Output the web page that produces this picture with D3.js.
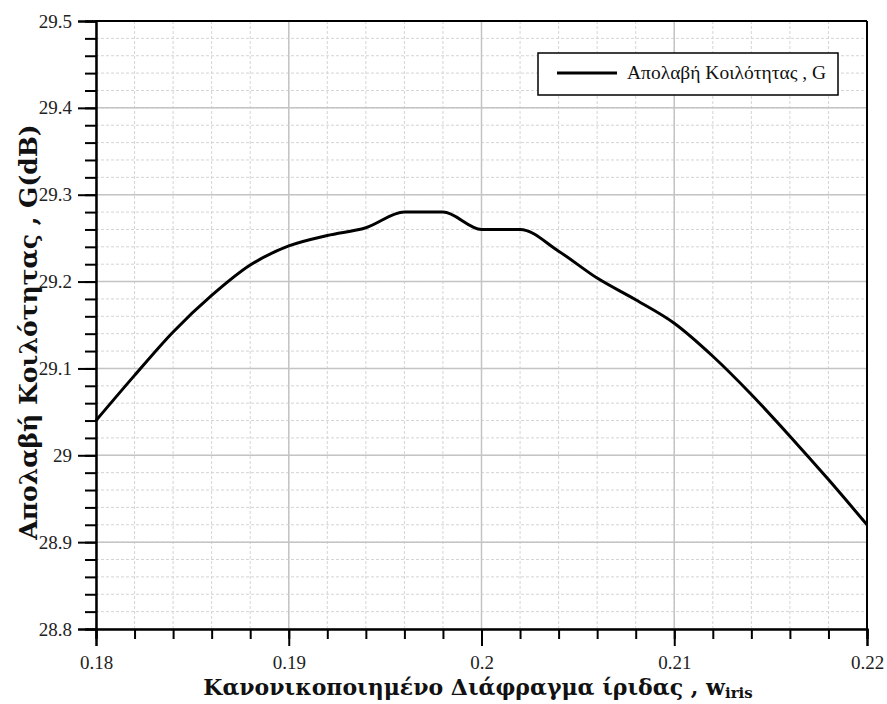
<!DOCTYPE html>
<html>
<head>
<meta charset="utf-8">
<script src="https://cdn.jsdelivr.net/npm/d3@7"></script>
<style>
  body { margin: 0; background: #fff; }
  text { font-family: "Liberation Serif", "DejaVu Serif", serif; }
  text.title { font-family: "DejaVu Serif", "Liberation Serif", serif; }
</style>
</head>
<body>
<script>
var w = 887;
var h = 704;
var margin = { top: 21, right: 20, bottom: 75, left: 96 };
var innerW = w - margin.left - margin.right;
var innerH = h - margin.top - margin.bottom;

// w_iris values and gain G (dB)
var wIris = [0.180, 0.182, 0.184, 0.186, 0.188, 0.190, 0.192, 0.194, 0.196, 0.198,
             0.200, 0.202, 0.204, 0.206, 0.208, 0.210, 0.212, 0.214, 0.216, 0.218, 0.220];
var gain = [29.04, 29.092, 29.142, 29.184, 29.219, 29.241, 29.253, 29.262, 29.28, 29.28,
            29.26, 29.26, 29.235, 29.204, 29.179, 29.152, 29.114, 29.07, 29.022, 28.972, 28.92];

var xTicks = [0.18, 0.19, 0.2, 0.21, 0.22];
var yTicks = [28.8, 28.9, 29, 29.1, 29.2, 29.3, 29.4, 29.5];
var xMinor = d3.range(0, 21).map(function(i){ return 0.18 + i * 0.002; });
var yMinor = d3.range(0, 36).map(function(i){ return 28.8 + i * 0.02; });

var legendLabel = "Απολαβή Κοιλότητας , G";

var svg = d3.select("body")
            .append("svg")
            .attr("width", w)
            .attr("height", h);

var g = svg.append("g")
           .attr("transform", "translate(" + margin.left + "," + margin.top + ")");

var x = d3.scaleLinear().domain([0.18, 0.22]).range([0, innerW]);
var y = d3.scaleLinear().domain([28.8, 29.5]).range([innerH, 0]);

// minor grid (dashed)
g.append("g")
 .selectAll("line")
 .data(xMinor)
 .enter()
 .append("line")
 .attr("x1", function(d){ return x(d); })
 .attr("x2", function(d){ return x(d); })
 .attr("y1", 0)
 .attr("y2", innerH)
 .attr("stroke", "#d4d4d4")
 .attr("stroke-width", 1)
 .attr("stroke-dasharray", "3,2");

g.append("g")
 .selectAll("line")
 .data(yMinor)
 .enter()
 .append("line")
 .attr("x1", 0)
 .attr("x2", innerW)
 .attr("y1", function(d){ return y(d); })
 .attr("y2", function(d){ return y(d); })
 .attr("stroke", "#d4d4d4")
 .attr("stroke-width", 1)
 .attr("stroke-dasharray", "3,2");

// major grid (solid)
g.append("g")
 .selectAll("line")
 .data(xTicks)
 .enter()
 .append("line")
 .attr("x1", function(d){ return x(d); })
 .attr("x2", function(d){ return x(d); })
 .attr("y1", 0)
 .attr("y2", innerH)
 .attr("stroke", "#c4c4c4")
 .attr("stroke-width", 1.5);

g.append("g")
 .selectAll("line")
 .data(yTicks)
 .enter()
 .append("line")
 .attr("x1", 0)
 .attr("x2", innerW)
 .attr("y1", function(d){ return y(d); })
 .attr("y2", function(d){ return y(d); })
 .attr("stroke", "#c4c4c4")
 .attr("stroke-width", 1.5);

// minor ticks
var xMinorAxis = d3.axisBottom(x).tickValues(xMinor).tickSize(10).tickFormat("");
var yMinorAxis = d3.axisLeft(y).tickValues(yMinor).tickSize(11).tickFormat("");

g.append("g")
 .attr("class", "axis")
 .attr("transform", "translate(0," + innerH + ")")
 .call(xMinorAxis);

g.append("g")
 .attr("class", "axis")
 .call(yMinorAxis);

// major ticks with labels
var xAxis = d3.axisBottom(x).tickValues(xTicks).tickSize(17).tickPadding(10)
              .tickFormat(function(d){ return String(+d.toFixed(2)); });
var yAxis = d3.axisLeft(y).tickValues(yTicks).tickSize(18).tickPadding(6)
              .tickFormat(function(d){ return String(+d.toFixed(1)); });

g.append("g")
 .attr("class", "axis")
 .attr("transform", "translate(0," + innerH + ")")
 .call(xAxis);

g.append("g")
 .attr("class", "axis")
 .call(yAxis);

g.selectAll(".axis path").attr("stroke", "#000").attr("stroke-width", 2);
g.selectAll(".axis line").attr("stroke", "#000").attr("stroke-width", 2);
g.selectAll(".axis text")
 .attr("font-size", "19px")
 .attr("fill", "#222");

// frame top / right
g.append("line")
 .attr("x1", 0).attr("x2", innerW).attr("y1", 0).attr("y2", 0)
 .attr("stroke", "#000").attr("stroke-width", 2);
g.append("line")
 .attr("x1", innerW).attr("x2", innerW).attr("y1", 0).attr("y2", innerH)
 .attr("stroke", "#000").attr("stroke-width", 2);

// curve
var line = d3.line()
             .x(function(d, i){ return x(wIris[i]); })
             .y(function(d){ return y(d); })
             .curve(d3.curveMonotoneX);

g.append("path")
 .datum(gain)
 .attr("d", line)
 .attr("fill", "none")
 .attr("stroke", "#000")
 .attr("stroke-width", 3);

// legend
var legend = g.append("g")
              .attr("transform", "translate(" + (538 - margin.left) + "," + (53 - margin.top) + ")");
legend.append("rect")
      .attr("width", 300)
      .attr("height", 42)
      .attr("fill", "#fff")
      .attr("stroke", "#000")
      .attr("stroke-width", 1.5);
legend.append("line")
      .attr("x1", 19).attr("x2", 79)
      .attr("y1", 20).attr("y2", 20)
      .attr("stroke", "#000")
      .attr("stroke-width", 3);
legend.append("text")
      .attr("x", 89)
      .attr("y", 26)
      .attr("font-size", "19.5px")
      .attr("fill", "#111")
      .text(legendLabel);

// axis titles
var xTitle = svg.append("text")
                .attr("class", "title")
                .attr("x", 478)
                .attr("y", 695)
                .attr("text-anchor", "middle")
                .attr("font-size", "22px")
                .attr("font-weight", "bold")
                .attr("fill", "#111");
xTitle.append("tspan").text("Κανονικοποιημένο Διάφραγμα ίριδας , w");
xTitle.append("tspan")
      .attr("dy", 3)
      .attr("font-size", "15px")
      .text("iris");

svg.append("text")
   .attr("class", "title")
   .attr("transform", "translate(37,332) rotate(-90)")
   .attr("text-anchor", "middle")
   .attr("font-size", "25px")
   .attr("font-weight", "bold")
   .attr("fill", "#111")
   .text("Απολαβή Κοιλότητας , G(dB)");
</script>
</body>
</html>
